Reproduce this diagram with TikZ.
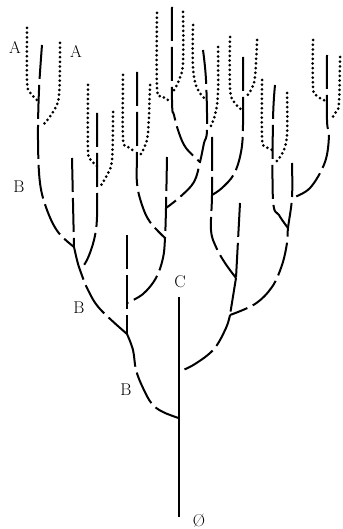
\documentclass[tikz,border=0pt]{standalone}
\begin{document}
\begin{tikzpicture}[x=1pt,y=-1pt,
  br/.style={line width=2pt, dash pattern=on 34pt off 6pt, line cap=butt},
  dt/.style={line width=3pt, line cap=round, dash pattern=on 0pt off 4.7pt},
  tr/.style={line width=2pt},
  lab/.style={font=\fontsize{17}{17}\selectfont, inner sep=0pt}]
\useasboundingbox (0,0) rectangle (342,529);
% junctions
\coordinate (n1) at (74,247);
\coordinate (n2) at (80,270);
\coordinate (n3) at (166,208);
\coordinate (n4) at (165,238);
\coordinate (n5) at (200,162);
\coordinate (n6) at (212,195);
\coordinate (n7) at (292,198);
\coordinate (n8) at (288,228);
\coordinate (n9) at (127,303);
\coordinate (n10) at (236,278);
\coordinate (n11) at (230,315);
\coordinate (n12) at (127,334);
\coordinate (n13) at (178.5,372);
\coordinate (n14) at (178.5,418);
\coordinate (top) at (178.5,297);
\coordinate (root) at (178.5,517);
% cluster 1
\draw[dt] plot[smooth,tension=0.6] coordinates {(27,28) (27,80) (29,91) (37,100)};
\draw[dt] plot[smooth,tension=0.6] coordinates {(60,43) (59,95) (53,112) (43,125)};
\draw[br] plot[smooth,tension=0.6] coordinates {(42,45) (39,90) (38,140) (40,183) (47,210) (58,232) (n1)};
% cluster 2
\draw[dt] plot[smooth,tension=0.6] coordinates {(88,85) (88,150) (91,160) (97,166)};
\draw[dt] plot[smooth,tension=0.6] coordinates {(113,112) (112,160) (107,175) (100,187)};
\draw[br] plot[smooth,tension=0.6] coordinates {(97,113) (97,165) (97,217) (94,240) (87,260) (n2)};
% cluster 3
\draw[dt] plot[smooth,tension=0.6] coordinates {(123,75) (123,138) (127,146) (136,152)};
\draw[dt] plot[smooth,tension=0.6] coordinates {(150,85) (148,133) (144,148) (139,157)};
\draw[br] plot[smooth,tension=0.6] coordinates {(137,72) (137,150) (137,183) (142,205) (150,222) (n4)};
% cluster 4
\draw[dt] plot[smooth,tension=0.6] coordinates {(157,13) (157,88) (162,96) (170,101)};
\draw[dt] plot[smooth,tension=0.6] coordinates {(183,12) (183,63) (179,80) (173,92)};
\draw[br] plot[smooth,tension=0.6] coordinates {(172,7) (172,100) (174,115) (179,133) (186,148) (n5)};
% cluster 5
\draw[dt] plot[smooth,tension=0.6] coordinates {(193,25) (193,67) (197,88) (206,100)};
\draw[dt] plot[smooth,tension=0.6] coordinates {(218,47) (218,93) (215,115) (209,130)};
\draw[br] plot[smooth,tension=0.6] coordinates {(203,50) (206,80) (207,130) (204,143) (n5) (194,182) (180,197) (n3)};
% cluster 6
\draw[dt] plot[smooth,tension=0.6] coordinates {(230,37) (230,88) (234,102) (242,110)};
\draw[dt] plot[smooth,tension=0.6] coordinates {(257,40) (255,77) (251,90) (245,98)};
\draw[br] plot[smooth,tension=0.6] coordinates {(243,57) (243,125) (241,152) (234,174) (222,188) (n6)};
% cluster 7
\draw[dt] plot[smooth,tension=0.6] coordinates {(262,80) (262,138) (265,146) (272,150)};
\draw[dt] plot[smooth,tension=0.6] coordinates {(287,93) (287,135) (283,152) (276,162)};
\draw[br] plot[smooth,tension=0.6] coordinates {(275,85) (273,120) (273,200) (279,215) (n8)};
% cluster 8
\draw[dt] plot[smooth,tension=0.6] coordinates {(313,40) (313,87) (317,96) (326,101)};
\draw[dt] plot[smooth,tension=0.6] coordinates {(340,57) (339,103) (336,112) (332,118)};
\draw[br] plot[smooth,tension=0.6] coordinates {(327,55) (327,120) (329,135) (325,162) (310,188) (n7)};
% free stems
\draw[br] (72,158) -- (n1);
\draw[br] plot[smooth,tension=0.6] coordinates {(167,157) (n3) (n4) (163,258) (156,278) (143,294) (n9)};
\draw[br] plot[smooth,tension=0.6] coordinates {(212,137) (n6) (211,230) (216,247) (225,263) (n10)};
\draw[br] (240,203) -- (n10);
\draw[br] plot[smooth,tension=0.6] coordinates {(292,163) (n7) (n8) (287,243) (282,265) (272,287) (255,304) (n11)};
\draw[br] (127,235) -- (n9) -- (n12);
% lower chain
\draw[br] plot[smooth,tension=0.6] coordinates {(n1) (77,260) (n2) (88,290) (100,309) (n12)};
\draw[br] plot[smooth,tension=0.6] coordinates {(n12) (133,350) (136,370) (143,388) (152,404) (163,412) (n14)};
\draw[br] (n10) -- (n11);
\draw[br] plot[smooth,tension=0.6] coordinates {(n11) (226,328) (214,349) (195,364) (n13)};
\draw[tr] (top) -- (root);
% labels
\node[lab] (la1) at (15,47) {A};
\node[lab] (la2) at (76,51) {A};
\node[lab] (lb1) at (19,187) {B};
\node[lab] (lb2) at (79,308) {B};
\node[lab] (lb3) at (126,390) {B};
\node[lab] (lc) at (180,282) {C};
\node[lab] (lo) at (199,521) {\O};
\end{tikzpicture}
\end{document}
